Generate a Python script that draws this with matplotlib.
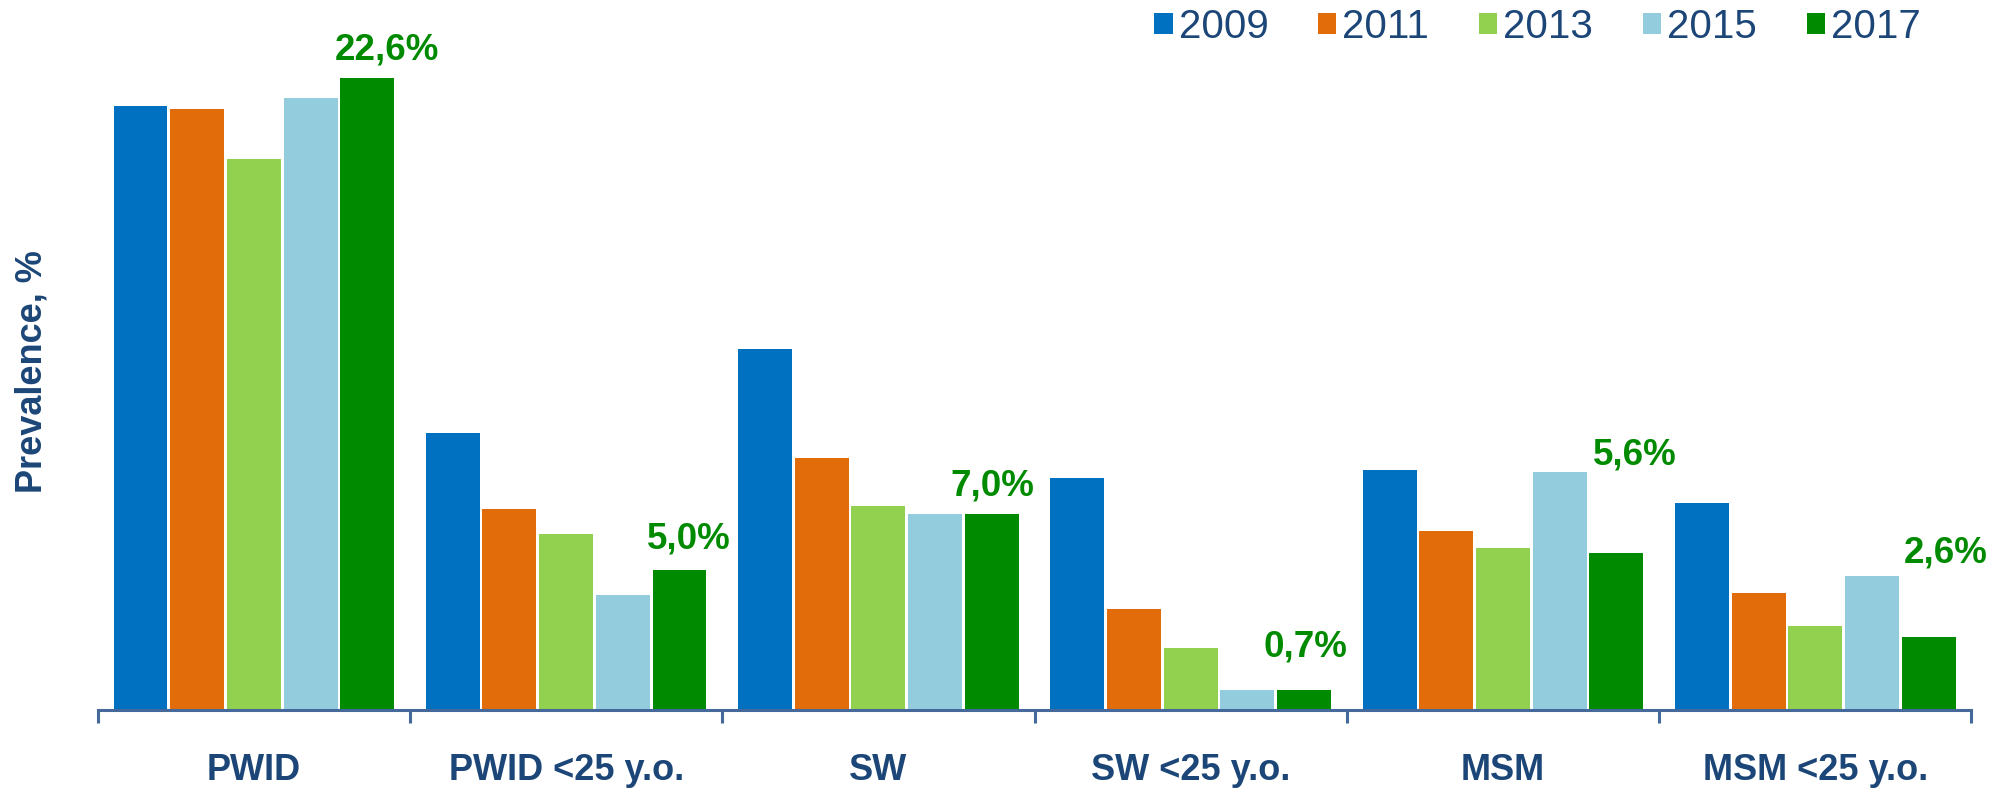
import matplotlib
matplotlib.use("Agg")
import matplotlib.pyplot as plt
import numpy as np

categories = ["PWID", "PWID <25 y.o.", "SW", "SW <25 y.o.", "MSM", "MSM <25 y.o."]
years = ["2009", "2011", "2013", "2015", "2017"]
v2009 = [21.6, 9.9, 12.9, 8.3, 8.6, 7.4]
v2011 = [21.5, 7.2, 9.0, 3.6, 6.4, 4.2]
v2013 = [19.7, 6.3, 7.3, 2.2, 5.8, 3.0]
v2015 = [21.9, 4.1, 7.0, 0.7, 8.5, 4.8]
v2017 = [22.6, 5.0, 7.0, 0.7, 5.6, 2.6]
series = [v2009, v2011, v2013, v2015, v2017]
colors = ["#0070C0", "#E36C0A", "#92D050", "#93CDDD", "#008A00"]

navy = "#1B4677"
green = "#008A00"
axis_col = "#46699C"

plt.rcParams['font.family'] = ['Liberation Sans', 'DejaVu Sans']

fig = plt.figure(figsize=(20, 7.88), dpi=100)
ax = fig.add_axes([0.04885, 1 - 710 / 788, 0.9369, 710 / 788])

x = np.arange(len(categories))
pitch = 0.1815
bw = pitch * 0.952
bars = []
for j, (vals, c, yr) in enumerate(zip(series, colors, years)):
    b = ax.bar(x + (j - 2) * pitch, vals, width=bw, color=c, label=yr, zorder=2)
    bars.append(b)

ax.set_xlim(-0.5, len(categories) - 0.5)
ax.set_ylim(0, 710 / 27.96)

for s in ["top", "right", "left"]:
    ax.spines[s].set_visible(False)
ax.spines["bottom"].set_color(axis_col)
ax.spines["bottom"].set_linewidth(2.2)
ax.spines["bottom"].set_zorder(3)
ax.set_yticks([])

ax.set_xticks(x)
ax.set_xticklabels(categories, fontsize=26, fontweight="bold", color=navy)
ax.tick_params(axis="x", which="major", length=0, pad=31)
ax.set_xticks(np.arange(-0.5, len(categories)), minor=True)
ax.tick_params(axis="x", which="minor", length=9, width=2.2, color=axis_col, direction="out")

# data labels for 2017 values (offsets in pixels from top of 2017 bar)
label_dx = [20, 9, 0, 1, 18, 17]
label_dy = [19, 22, 19, 34, 89, 75]
for i, v in enumerate(v2017):
    txt = f"{v:.1f}%".replace(".", ",")
    ax.annotate(txt, xy=(x[i] + 2 * pitch, v), xytext=(label_dx[i], label_dy[i]),
                textcoords="offset pixels", ha="center", va="baseline",
                fontsize=26.5, fontweight="bold", color=green)

fig.text(32 / 2000, 1 - 372 / 788, "Prevalence, %", rotation=90, ha="center", va="center",
         fontsize=26, fontweight="bold", color=navy)

leg = fig.legend(handles=[b for b in bars], labels=years, loc="center right",
                 bbox_to_anchor=(1921 / 2000, 1 - 27 / 788), ncol=5, frameon=False,
                 fontsize=29, handlelength=0.45, handleheight=0.45, handletextpad=0.15,
                 columnspacing=1.24, borderpad=0, borderaxespad=0)
for t in leg.get_texts():
    t.set_color(navy)

fig.savefig("out.png", dpi=100)
